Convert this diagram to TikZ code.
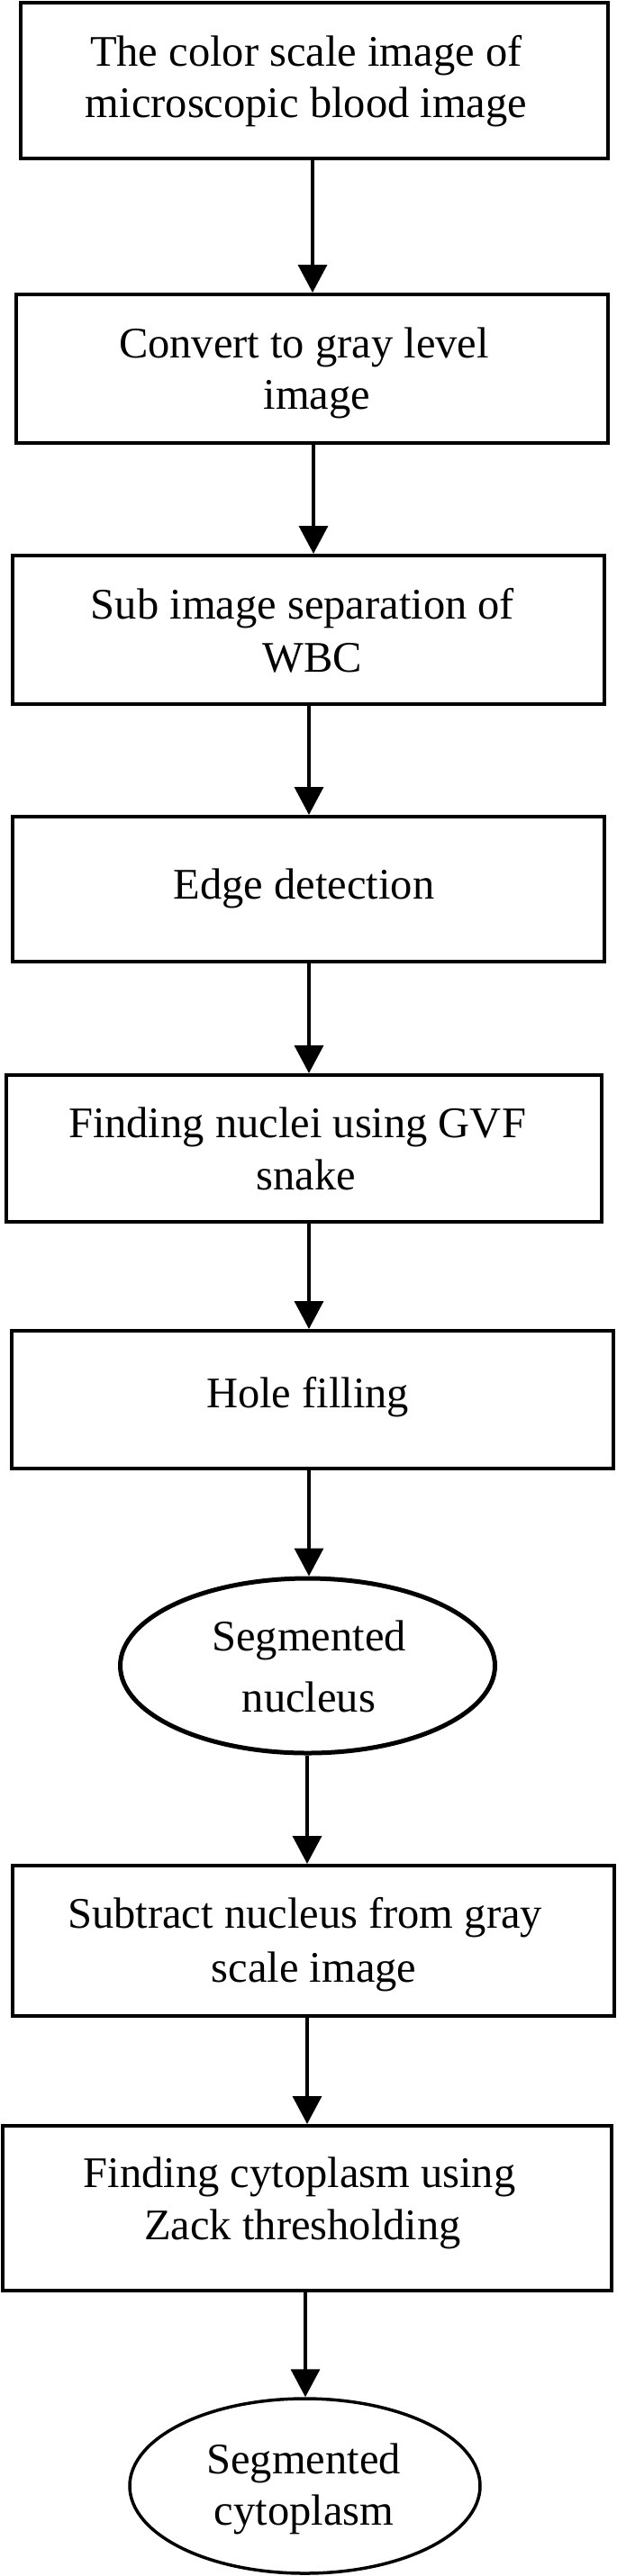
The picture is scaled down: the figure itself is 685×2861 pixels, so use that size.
\documentclass[tikz,border=0pt]{standalone}
\usepackage{fontspec}
\setmainfont{Liberation Serif}
\usetikzlibrary{shapes.geometric,arrows.meta}
\tikzset{
  stepbox/.style={draw=black, line width=4pt, rectangle, inner sep=0pt},
  endell/.style={draw=black, ellipse, inner sep=0pt},
  txt/.style={anchor=base, inner sep=0pt, font=\fontsize{48.5}{57}\selectfont},
  arr/.style={draw=black, line width=3.5pt, -{Triangle[width=32pt,length=31pt]}}
}
\begin{document}
\begin{tikzpicture}[x=1pt,y=-1pt]
\useasboundingbox (0,0) rectangle (685,2861);
% shapes
\node[stepbox, minimum width=652pt, minimum height=173pt] (b1) at (349,89.5) {};
\node[stepbox, minimum width=657pt, minimum height=165pt] (b2) at (346.5,409.5) {};
\node[stepbox, minimum width=657pt, minimum height=165pt] (b3) at (342.5,699.5) {};
\node[stepbox, minimum width=657pt, minimum height=161pt] (b4) at (342.5,987.5) {};
\node[stepbox, minimum width=661pt, minimum height=163pt] (b5) at (337.5,1275.5) {};
\node[stepbox, minimum width=668pt, minimum height=153pt] (b6) at (347,1554.5) {};
\node[endell, line width=5pt, minimum width=416pt, minimum height=194pt] (e1) at (341.5,1850) {};
\node[stepbox, minimum width=668pt, minimum height=167pt] (b8) at (348,2155.5) {};
\node[stepbox, minimum width=676pt, minimum height=183pt] (b9) at (341,2452.5) {};
\node[endell, line width=3.5pt, minimum width=389pt, minimum height=194pt] (e2) at (338.5,2761) {};
% texts
\node[txt] (t1a) at (339.7,73.1) {The color scale image of};
\node[txt] (t1b) at (340,130.5) {microscopic blood image};
\node[txt] (t2a) at (337.5,397.4) {Convert to gray level};
\node[txt] (t2b) at (352,454.7) {image};
\node[txt] (t3a) at (336,687) {Sub image separation of};
\node[txt] (t3b) at (347,746.4) {WBC};
\node[txt] (t4) at (337.5,998.6) {Edge detection};
\node[txt] (t5a) at (330,1263.8) {Finding nuclei using GVF};
\node[txt] (t5b) at (340,1321.9) {snake};
\node[txt] (t6) at (341.5,1563) {Hole filling};
\node[txt] (t7a) at (343,1833.5) {Segmented};
\node[txt] (t7b) at (343,1901.4) {nucleus};
\node[txt] (t8a) at (338.6,2141.7) {Subtract nucleus from gray};
\node[txt] (t8b) at (348.6,2201.8) {scale image};
\node[txt] (t9a) at (332.6,2429.5) {Finding cytoplasm using};
\node[txt] (t9b) at (336,2487.8) {Zack thresholding};
\node[txt] (t10a) at (337,2747) {Segmented};
\node[txt] (t10b) at (337.6,2804.5) {cytoplasm};
% arrow columns
\coordinate (x1) at (347,0);
\coordinate (x2) at (348,0);
\coordinate (x3) at (343,0);
\coordinate (x7) at (341,0);
\coordinate (x9) at (339,0);
% connectors
\draw[arr] (b1.south -| x1) -- (b2.north -| x1);
\draw[arr] (b2.south -| x2) -- (b3.north -| x2);
\draw[arr] (b3.south -| x3) -- (b4.north -| x3);
\draw[arr] (b4.south -| x3) -- (b5.north -| x3);
\draw[arr] (b5.south -| x3) -- (b6.north -| x3);
\draw[arr] (b6.south -| x3) -- (e1.north -| x3);
\draw[arr] (e1.south -| x7) -- (b8.north -| x7);
\draw[arr] (b8.south -| x7) -- (b9.north -| x7);
\draw[arr] (b9.south -| x9) -- (e2.north -| x9);
\end{tikzpicture}
\end{document}
